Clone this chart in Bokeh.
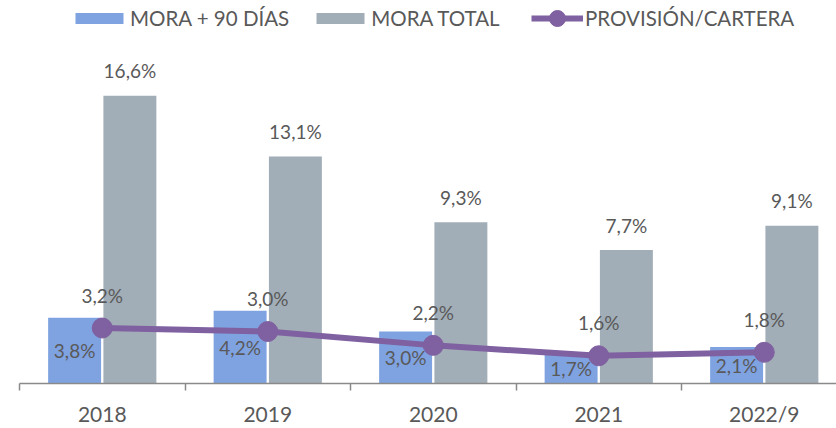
import numpy as np
from bokeh.plotting import figure
from bokeh.models import Range1d, FixedTicker, Legend, LegendItem, ColumnDataSource
from bokeh.core.properties import value
from bokeh.embed import file_html
from bokeh.resources import INLINE

categories = ["2018", "2019", "2020", "2021", "2022/9"]
mora_90 = [3.8, 4.2, 3.0, 1.7, 2.1]
mora_total = [16.6, 13.1, 9.3, 7.7, 9.1]
provision = [3.2, 3.0, 2.2, 1.6, 1.8]


def fmt(v):
    return f"{v:.1f}".replace(".", ",") + "%"


FONT = "Lato"
TEXT = "#595959"
BLUE = "#7FA2E1"
GREY = "#A2AEB7"
PURPLE = "#7F60A0"
AXIS = "#8A8A8A"

W, H = 836, 428
LEFT = 19
PX_PER_CAT = 165.5
PX_PER_PCT = 17.47
FRAME_W = W - LEFT
FRAME_H = 386
BAR_W = 0.32
OFF = 0.167

idx = np.arange(len(categories)) + 0.5
src = ColumnDataSource(dict(
    x=idx,
    x_blue=idx - OFF,
    x_grey=idx + OFF,
    mora_90=mora_90,
    mora_90_mid=[v / 2 for v in mora_90],
    mora_total=mora_total,
    provision=provision,
    lab_90=[fmt(v) for v in mora_90],
    lab_total=[fmt(v) for v in mora_total],
    lab_prov=[fmt(v) for v in provision],
))

p = figure(width=W, height=H, output_backend="svg", toolbar_location=None,
           x_range=Range1d(0, FRAME_W / PX_PER_CAT),
           y_range=Range1d(0, FRAME_H / PX_PER_PCT),
           min_border_left=LEFT, min_border_right=0,
           min_border_top=0, min_border_bottom=H - FRAME_H)

p.xgrid.visible = False
p.ygrid.visible = False
p.yaxis.visible = False
p.outline_line_color = None

ax = p.xaxis[0]
ax.ticker = FixedTicker(ticks=list(idx), minor_ticks=list(range(0, len(categories) + 1)))
ax.major_label_overrides = {float(x): c for x, c in zip(idx, categories)}
ax.major_tick_out = 0
ax.major_tick_in = 0
ax.minor_tick_out = 7
ax.minor_tick_in = 0
ax.axis_line_color = AXIS
ax.axis_line_width = 1.5
ax.minor_tick_line_color = AXIS
ax.minor_tick_line_width = 1.5
ax.major_label_text_font = FONT
ax.major_label_text_font_size = "21px"
ax.major_label_text_color = TEXT
ax.major_label_standoff = 10

blue = p.vbar(x="x_blue", top="mora_90", width=BAR_W, source=src,
              fill_color=BLUE, line_color=None)
grey = p.vbar(x="x_grey", top="mora_total", width=BAR_W, source=src,
              fill_color=GREY, line_color=None)

label_kw = dict(text_font=value(FONT), text_font_size="19px", text_color=TEXT,
                text_align="center", text_baseline="middle")

p.text(x="x_blue", y="mora_90_mid", text="lab_90", source=src, **label_kw)

line = p.line(x="x", y="provision", source=src, line_color=PURPLE, line_width=6)
dots = p.scatter(x="x", y="provision", source=src, size=20,
                 fill_color=PURPLE, line_color=PURPLE)

p.text(x="x", y="provision", text="lab_prov", source=src, y_offset=-33, **label_kw)
p.text(x="x_grey", y="mora_total", text="lab_total", source=src, y_offset=-25, **label_kw)

leg_common = dict(orientation="horizontal", padding=0, margin=0,
                  border_line_color=None, background_fill_alpha=0,
                  label_text_font=FONT, label_text_font_size="20.5px",
                  label_text_color=TEXT)

leg1 = Legend(items=[LegendItem(label="MORA + 90 DÍAS", renderers=[blue]),
                     LegendItem(label="MORA TOTAL", renderers=[grey])],
              location=(50, FRAME_H - 33), glyph_width=60, glyph_height=14,
              label_standoff=1, spacing=21, **leg_common)
leg2 = Legend(items=[LegendItem(label="PROVISIÓN/CARTERA", renderers=[line, dots])],
              location=(512, FRAME_H - 41), glyph_width=52, glyph_height=40,
              label_standoff=2, spacing=0, **leg_common)
p.add_layout(leg1)
p.add_layout(leg2)

open("out.html", "w").write(file_html(p, INLINE))
